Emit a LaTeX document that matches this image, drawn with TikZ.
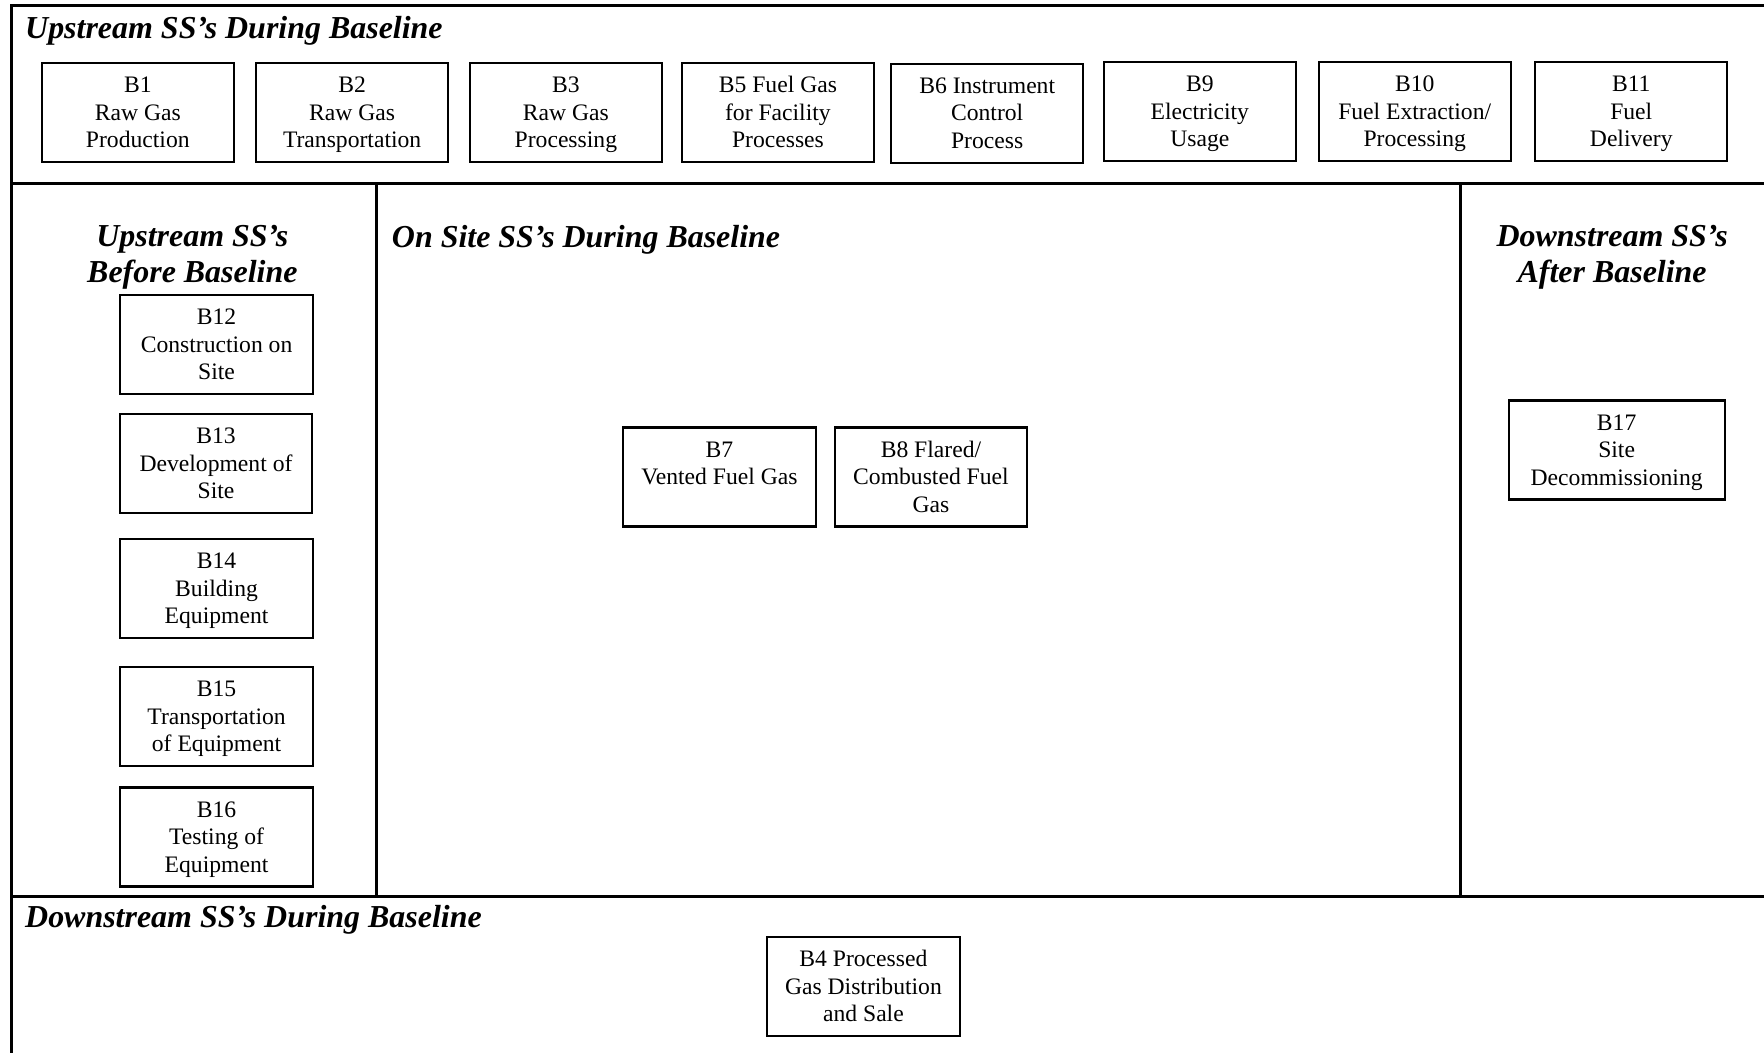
\documentclass[tikz,border=0pt]{standalone}
\usepackage{fontspec}
\setmainfont{Liberation Serif}
% three strutted lines, so every box sets its text at the same heights
% (a taller first strut drops the block slightly below the box centre)
\newcommand\trio[3]{\rule{0pt}{10.575pt}#1\\\strut#2\\\strut#3}
\begin{document}
\begin{tikzpicture}[x=0.5pt,y=-0.5pt,
  frameline/.style={line width=1.3pt},
  blk/.style={draw, line width=0.9pt, minimum width=85.5pt, minimum height=44pt,
    align=center, inner sep=0pt, font=\fontsize{10.5}{12.25}\selectfont},
  hd/.style={font=\fontsize{14.2}{16}\selectfont\bfseries\itshape, inner sep=0pt, align=center}]
\useasboundingbox (0,0) rectangle (1568,936);

% section frame
\draw[frameline] (10,940) -- (10,5) -- (1572,5);
\draw[frameline] (10,163) -- (1572,163);
\draw[frameline] (10,797) -- (1572,797);
\draw[frameline] (335,163) -- (335,797);
\draw[frameline] (1298,163) -- (1298,797);

% section headings
\node[hd, anchor=west] (hUpDur) at (22,27) {Upstream SS’s During Baseline};
\node[hd] (hUpBef) at (171,229) {Upstream SS’s\\Before Baseline};
\node[hd, anchor=west] (hOnSite) at (348,213) {On Site SS’s During Baseline};
\node[hd] (hDnAft) at (1433,229) {Downstream SS’s\\After Baseline};
\node[hd, anchor=west] (hDnDur) at (22,818) {Downstream SS’s During Baseline};

% upstream during baseline
\node[blk] (b1) at (122.5,100) {\trio{B1}{Raw Gas}{Production}};
\node[blk] (b2) at (313,100) {\trio{B2}{Raw Gas}{Transportation}};
\node[blk] (b3) at (503,100) {\trio{B3}{Raw Gas}{Processing}};
\node[blk] (b5) at (691.5,100) {\trio{B5 Fuel Gas}{for Facility}{Processes}};
\node[blk] (b6) at (877.5,100.5) {\trio{B6 Instrument}{Control}{Process}};
\node[blk] (b9) at (1066.5,99) {\trio{B9}{Electricity}{Usage}};
\node[blk] (b10) at (1257.5,99) {\trio{B10}{Fuel Extraction/}{Processing}};
\node[blk] (b11) at (1450,99) {\trio{B11}{Fuel}{Delivery}};

% upstream before baseline
\node[blk] (b12) at (192.5,306) {\trio{B12}{Construction on}{Site}};
\node[blk] (b13) at (192,412) {\trio{B13}{Development of}{Site}};
\node[blk] (b14) at (192.5,523) {\trio{B14}{Building}{Equipment}};
\node[blk] (b15) at (192.5,637) {\trio{B15}{Transportation}{of Equipment}};
\node[blk] (b16) at (192.5,744) {\trio{B16}{Testing of}{Equipment}};

% on site
\node[blk] (b7) at (639.5,424) {\trio{B7}{Vented Fuel Gas}{}};
\node[blk] (b8) at (827.5,424) {\trio{B8 Flared/}{Combusted Fuel}{Gas}};

% downstream after baseline
\node[blk, minimum width=96pt] (b17) at (1437,400) {\trio{B17}{Site}{Decommissioning}};

% downstream during baseline
\node[blk] (b4) at (767.5,877) {\trio{B4 Processed}{Gas Distribution}{and Sale}};
\end{tikzpicture}
\end{document}
